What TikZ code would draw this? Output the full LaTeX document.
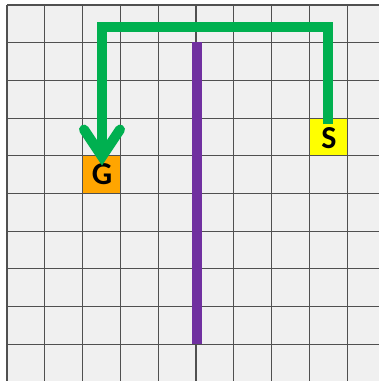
\documentclass[tikz,border=0pt]{standalone}
\usepackage{fontspec}
\setmainfont{Carlito}
\usetikzlibrary{calc}
\definecolor{bggray}{RGB}{240,240,240}
\definecolor{gridc}{RGB}{80,80,80}
\definecolor{pathgreen}{RGB}{0,176,80}
\definecolor{wallpurple}{RGB}{112,48,160}
\definecolor{goalorange}{RGB}{255,165,0}
\definecolor{startyellow}{RGB}{255,255,0}
\tikzset{
  cell/.style={minimum size=37.8pt, inner sep=0pt, outer sep=0pt, font=\fontsize{32}{32}\selectfont\bfseries},
  gridline/.style={draw=gridc, line width=1.1pt},
  route/.style={draw=pathgreen, line width=10pt, line join=miter},
  arrowwing/.style={draw=pathgreen, line width=10pt, line join=miter, line cap=round},
  wall/.style={draw=wallpurple, line width=10pt},
}
\begin{document}
\begin{tikzpicture}[x=1pt,y=-1pt]
\useasboundingbox (0,0) rectangle (379,381);
\fill[white] (0,0) rectangle (379,381);
\begin{scope}
\clip (0,0) rectangle (379,381);
\fill[bggray] (7,5) rectangle (390,390);
\node[cell, fill=startyellow] (S) at (329,137) {};
\node[cell, fill=goalorange] (G) at (102,174.5) {};
\foreach \i in {0,...,10} {
  \draw[gridline] (7+37.8*\i,5) -- (7+37.8*\i,390);
  \draw[gridline] (7,5+37.7*\i) -- (390,5+37.7*\i);
}
\end{scope}
\node[cell] (Slabel) at (329,138.5) {S};
\node[cell] (Glabel) at (102,174.5) {G};
% wall
\coordinate (wtop) at (197,42);
\coordinate (wbot) at (197,344);
\draw[wall] (wtop) -- (wbot);
% route
\coordinate (start) at ($(S.north)+(-1.5,6)$);
\coordinate (topright) at ($(S.north)+(-1.5,-91)$);
\coordinate (apex) at ($(G.north)+(0,1)$);
\draw[route] (start) -- (topright) -| (apex);
\draw[arrowwing] ($(apex)+(-18,-27)$) -- (apex) -- ($(apex)+(18,-27)$);
\end{tikzpicture}
\end{document}
